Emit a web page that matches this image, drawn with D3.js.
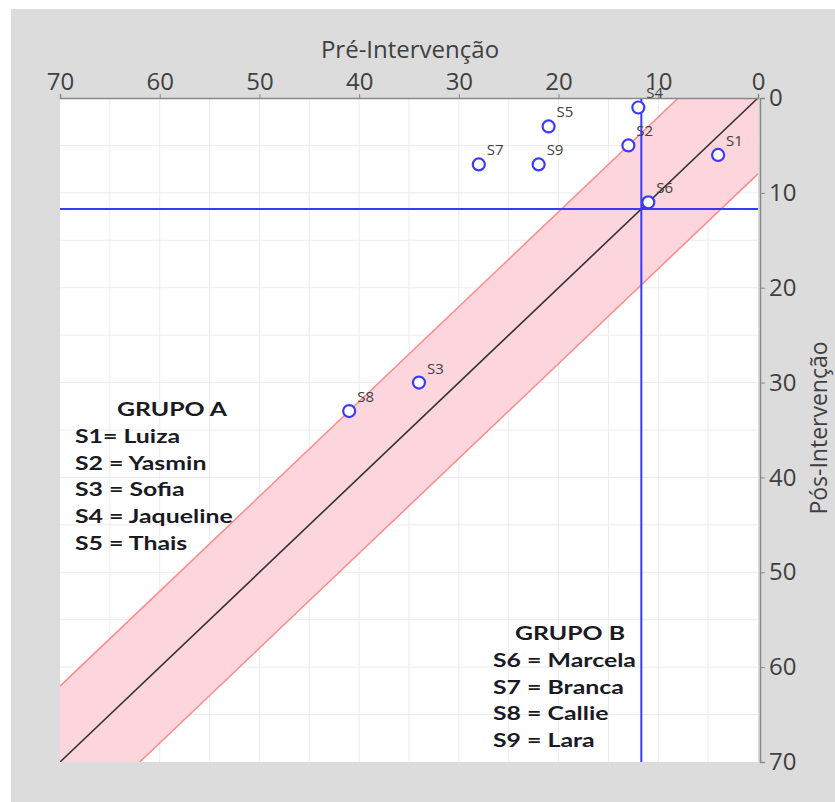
<!DOCTYPE html>
<html>
<head>
<meta charset="utf-8">
<script src="https://cdn.jsdelivr.net/npm/d3@7"></script>
<style>
  body { margin: 0; background: #fff; }
  svg { display: block; }
  .tick text { font-family: "Open Sans", "Noto Sans", sans-serif; fill: #404040; }
</style>
</head>
<body>
<svg id="chart" width="835" height="802"></svg>
<script>
// data
const subjects = ["S1", "S2", "S4", "S5", "S7", "S9", "S6", "S3", "S8"];
const preScores = [4, 13, 12, 21, 28, 22, 11, 34, 41];
const postScores = [6, 5, 1, 3, 7, 7, 11, 30, 33];
const tickValues = [0, 10, 20, 30, 40, 50, 60, 70];
const bandHalf = 8;
const meanLine = 11.7;
const groupA = ["GRUPO A", "S1= Luiza", "S2 = Yasmin", "S3 = Sofia", "S4 = Jaqueline", "S5 = Thais"];
const groupB = ["GRUPO B", "S6 = Marcela", "S7 = Branca", "S8 = Callie", "S9 = Lara"];

const svg = d3.select("#chart");

/* background */
svg.append("rect").attr("x", 11).attr("y", 9).attr("width", 824).attr("height", 793).attr("fill", "#dcdcdc");

const x = d3.scaleLinear().domain([70, 0]).range([60, 758]);
const y = d3.scaleLinear().domain([0, 70]).range([98, 762]);

svg.append("rect")
  .attr("x", x(70)).attr("y", y(0))
  .attr("width", x(0) - x(70)).attr("height", y(70) - y(0))
  .attr("fill", "#fff");

svg.append("clipPath").attr("id", "plotClip")
  .append("rect")
  .attr("x", x(70)).attr("y", y(0))
  .attr("width", x(0) - x(70)).attr("height", y(70) - y(0));

const plot = svg.append("g").attr("clip-path", "url(#plotClip)");

/* minor grid every 5 */
const grid = d3.range(5, 70, 5);
plot.selectAll(".gx").data(grid).enter().append("line")
  .attr("x1", d => x(d)).attr("x2", d => x(d))
  .attr("y1", y(0)).attr("y2", y(70))
  .attr("stroke", "#ececec").attr("stroke-width", 1);
plot.selectAll(".gy").data(grid).enter().append("line")
  .attr("y1", d => y(d)).attr("y2", d => y(d))
  .attr("x1", x(70)).attr("x2", x(0))
  .attr("stroke", "#ececec").attr("stroke-width", 1);

/* band around identity */
const bandPts = [[70, 70 - bandHalf], [bandHalf, 0], [0, 0], [0, bandHalf], [70 - bandHalf, 70], [70, 70]];
plot.append("path")
  .attr("d", d3.line().x(d => x(d[0])).y(d => y(d[1]))(bandPts) + "Z")
  .attr("fill", "#fdd5dd");
[[[70, 70 - bandHalf], [bandHalf, 0]], [[0, bandHalf], [70 - bandHalf, 70]]].forEach(seg => {
  plot.append("line")
    .attr("x1", x(seg[0][0])).attr("y1", y(seg[0][1]))
    .attr("x2", x(seg[1][0])).attr("y2", y(seg[1][1]))
    .attr("stroke", "#ff8a8a").attr("stroke-width", 1.5);
});

/* identity line */
plot.append("line")
  .attr("x1", x(70)).attr("y1", y(70))
  .attr("x2", x(0)).attr("y2", y(0))
  .attr("stroke", "#333").attr("stroke-width", 1.6);

/* mean lines */
plot.append("line")
  .attr("x1", x(meanLine)).attr("x2", x(meanLine))
  .attr("y1", y(0)).attr("y2", y(70))
  .attr("stroke", "#3a3aff").attr("stroke-width", 2);
plot.append("line")
  .attr("y1", y(meanLine)).attr("y2", y(meanLine))
  .attr("x1", x(70)).attr("x2", x(0))
  .attr("stroke", "#3a3aff").attr("stroke-width", 2);

/* axes */
const topAxis = svg.append("g").attr("transform", `translate(0,${y(0)})`)
  .call(d3.axisTop(x).tickValues(tickValues).tickSize(4).tickPadding(4));
topAxis.select(".domain").attr("stroke", "#888").attr("stroke-width", 1.5);
topAxis.selectAll(".tick line").attr("stroke", "#888");
topAxis.selectAll(".tick text").attr("font-size", 24);

const rightAxis = svg.append("g").attr("transform", `translate(${x(0) + 2},0)`)
  .call(d3.axisRight(y).tickValues(tickValues).tickSize(5).tickPadding(4));
rightAxis.select(".domain").attr("stroke", "#888").attr("stroke-width", 1.5);
rightAxis.selectAll(".tick line").attr("stroke", "#888");
rightAxis.selectAll(".tick text").attr("font-size", 24);

svg.append("text")
  .attr("x", 410).attr("y", 58)
  .attr("text-anchor", "middle")
  .attr("font-family", "Open Sans, Noto Sans, sans-serif")
  .attr("font-size", 24).attr("fill", "#404040")
  .text("Pré-Intervenção");

svg.append("text")
  .attr("transform", "translate(827,428) rotate(-90)")
  .attr("text-anchor", "middle")
  .attr("font-family", "Open Sans, Noto Sans, sans-serif")
  .attr("font-size", 23).attr("fill", "#404040")
  .text("Pós-Intervenção");

/* points */
const pts = subjects.map((s, i) => ({ s, pre: preScores[i], post: postScores[i] }));
svg.selectAll(".pt").data(pts).enter().append("circle")
  .attr("cx", d => x(d.pre)).attr("cy", d => y(d.post))
  .attr("r", 6)
  .attr("fill", "#fff").attr("stroke", "#3a3aff").attr("stroke-width", 2.2);
svg.selectAll(".lbl").data(pts).enter().append("text")
  .attr("x", d => x(d.pre) + 8).attr("y", d => y(d.post) - 9)
  .attr("font-family", "Open Sans, Noto Sans, sans-serif")
  .attr("font-size", 15).attr("fill", "#404040")
  .text(d => d.s);

/* legends (text in the picture is stretched sideways) */
function legend(lines, left, centerX, top0) {
  const g = svg.append("g")
    .attr("font-family", "Lato, Liberation Sans, sans-serif")
    .attr("font-weight", "bold").attr("font-size", 18).attr("fill", "#1a1a24");
  g.selectAll("text").data(lines).enter().append("text")
    .attr("transform", (d, i) => `translate(${i === 0 ? centerX : left},${top0 + i * 26.8}) scale(1.38,1)`)
    .attr("text-anchor", (d, i) => i === 0 ? "middle" : "start")
    .text(d => d);
}
legend(groupA, 75, 172, 416);
legend(groupB, 493, 570, 640);
</script>
</body>
</html>
